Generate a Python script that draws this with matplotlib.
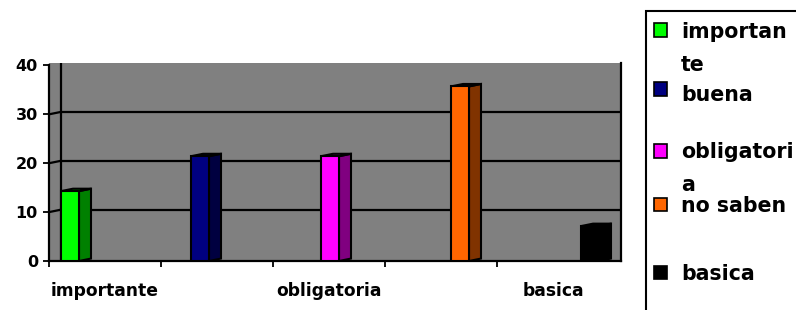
import matplotlib
matplotlib.use("Agg")
import matplotlib.pyplot as plt
from matplotlib.patches import Polygon, Rectangle

# ---- data ----
categories = ["importante", "buena", "obligatoria", "no saben", "basica"]
series_names = ["importante", "buena", "obligatoria", "no saben", "basica"]
values = [14.29, 21.43, 21.43, 35.71, 7.14]
legend_labels = ["importan\nte", "buena", "obligatori\na", "no saben", "basica"]
front_colors = ["#00FF00", "#000080", "#FF00FF", "#FF6600", "#000000"]
side_colors = ["#008000", "#000040", "#800080", "#803300", "#000000"]
y_ticks = [0, 10, 20, 30, 40]

W, H = 796, 310
fig = plt.figure(figsize=(W / 100, H / 100), dpi=100)
fig.patch.set_facecolor("white")

# axes: front axis 49..609 px (5 categories), back wall extends to 621 px
ax = fig.add_axes([49 / W, (H - 261) / H, 572 / W, 198 / H])
ncat = len(categories)
dx = 12 / 112.0   # depth in category units
dy = 0.5          # depth in value units
ax.set_xlim(0, ncat + dx)
ax.set_ylim(0, 40 + dy)
ax.set_facecolor("#808080")

# back wall gridlines + side wall slants
for v in y_ticks[1:-1]:
    ax.plot([dx, ncat + dx], [v + dy, v + dy], color="black", lw=1.6, zorder=1)
    ax.plot([0, dx], [v, v + dy], color="black", lw=1.6, zorder=1)
ax.plot([dx, dx], [0, 40 + dy], color="black", lw=1.6, zorder=1)

# bars
w = 18 / 112.0
start = 12 / 112.0
for j, (name, val) in enumerate(zip(series_names, values)):
    vals = [val if i == j else 0 for i in range(ncat)]
    lefts = [i + start + j * w for i in range(ncat)]
    bars = ax.bar(lefts, vals, width=w, align="edge", color=front_colors[j],
                  edgecolor="black", linewidth=1.5, zorder=3)
    for b, v in zip(bars, vals):
        if v <= 0:
            b.set_visible(False)
            continue
        xl = b.get_x()
        xr = xl + b.get_width()
        h = b.get_height()
        side = Polygon([(xr, 0), (xr + dx, dy), (xr + dx, h + dy), (xr, h)],
                       closed=True, facecolor=side_colors[j], edgecolor="black",
                       linewidth=1.5, zorder=2.9)
        top = Polygon([(xl, h), (xr, h), (xr + dx, h + dy), (xl + dx, h + dy)],
                      closed=True, facecolor=side_colors[j], edgecolor="black",
                      linewidth=1.5, zorder=2.9)
        ax.add_patch(side)
        ax.add_patch(top)

# spines
ax.spines["top"].set_visible(False)
ax.spines["left"].set_bounds(0, 40)
for s in ["left", "bottom", "right"]:
    ax.spines[s].set_linewidth(1.6)
    ax.spines[s].set_color("black")

ax.set_yticks(y_ticks)
ax.set_yticklabels([str(t) for t in y_ticks], fontsize=11.5, fontweight="bold")
ax.tick_params(axis="y", direction="out", length=4, width=1.3, pad=4)

ax.set_xticks(range(ncat))
ax.set_xticklabels([])
ax.tick_params(axis="x", direction="out", length=4, width=1.3)
for i, c in enumerate(categories):
    if i % 2 == 0:
        ax.text(i + 0.5, -4.2, c, ha="center", va="top", fontsize=12.3,
                fontweight="bold", transform=ax.transData)

# legend (manual, Excel-like, clipped at right/bottom)
fig.patches.append(Rectangle((646 / W, -0.05), 0.3, 1 - 11 / H + 0.05,
                             transform=fig.transFigure, facecolor="white",
                             edgecolor="black", linewidth=1.5, zorder=0))
first_base = [38, 101, 158, 212, 280]
sq_center = [30, 89, 151, 204, 272]
for j, lab in enumerate(legend_labels):
    c = sq_center[j]
    fig.patches.append(Rectangle((654 / W, 1 - (c + 6.5) / H), 13 / W, 13 / H,
                                 transform=fig.transFigure,
                                 facecolor=front_colors[j], edgecolor="black",
                                 linewidth=1.2, zorder=2))
    for k, line in enumerate(lab.split("\n")):
        yb = first_base[j] + k * 33
        fig.text(681 / W, 1 - yb / H, line, ha="left", va="baseline",
                 fontsize=14.8, fontweight="bold")

fig.savefig("out.png", dpi=100)
